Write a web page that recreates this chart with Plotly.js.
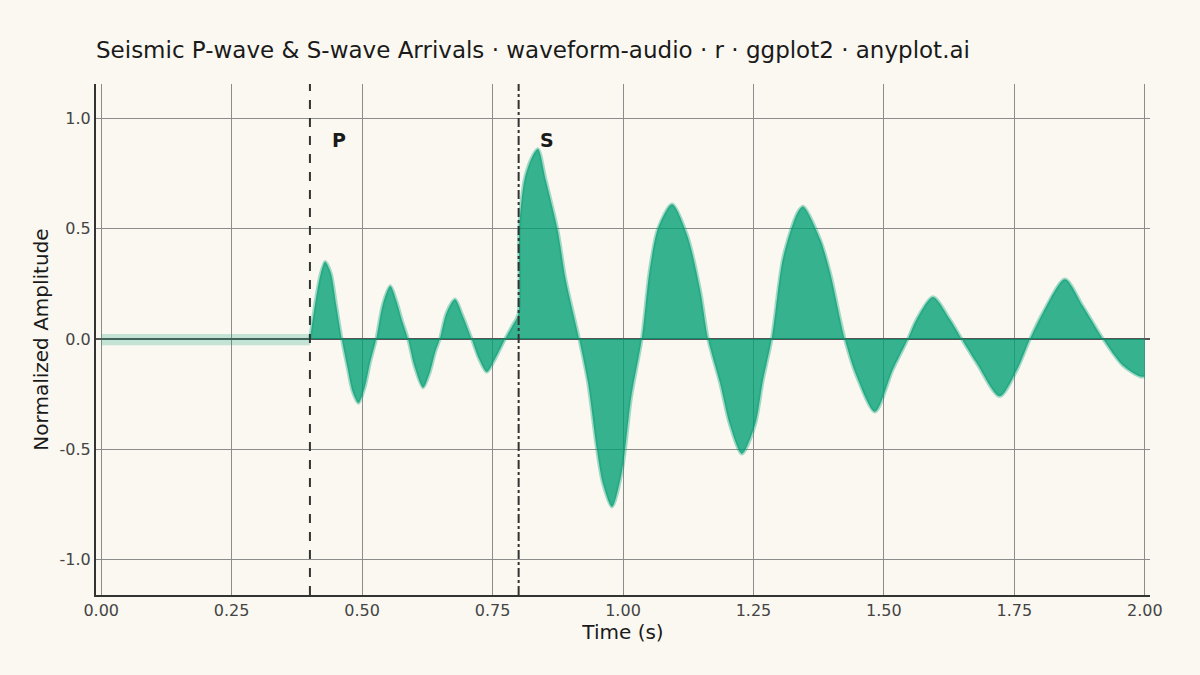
<!DOCTYPE html>
<html>
<head>
<meta charset="utf-8">
<script src="https://cdn.plot.ly/plotly-3.0.1.min.js"></script>
<style>
  html, body { margin: 0; padding: 0; background: #FAF8F1; }
  #chart { width: 1200px; height: 675px; }
</style>
</head>
<body>
<div id="chart"></div>
<script>
// waveform (time in s, normalized amplitude)
const waveTime = [
  0.400, 0.412, 0.420, 0.429, 0.440, 0.450, 0.461, 0.472, 0.482, 0.493,
  0.505, 0.515, 0.527, 0.540, 0.554, 0.566, 0.577, 0.588, 0.600, 0.617,
  0.630, 0.640, 0.649, 0.662, 0.678, 0.692, 0.710, 0.724, 0.739, 0.755,
  0.774, 0.788, 0.799, 0.801, 0.812, 0.827, 0.837, 0.852, 0.875, 0.890,
  0.916, 0.933, 0.950, 0.961, 0.979, 0.998, 1.016, 1.036, 1.051, 1.067,
  1.094, 1.123, 1.148, 1.163, 1.186, 1.205, 1.228, 1.253, 1.268, 1.285,
  1.307, 1.334, 1.345, 1.378, 1.397, 1.425, 1.448, 1.483, 1.517, 1.546,
  1.563, 1.594, 1.626, 1.649, 1.678, 1.722, 1.755, 1.780, 1.805, 1.847,
  1.881, 1.920, 1.958, 1.991, 2.000
];
const waveAmp = [
  0.00, 0.19, 0.29, 0.35, 0.30, 0.16, 0.00, -0.13, -0.24, -0.29,
  -0.22, -0.11, 0.00, 0.16, 0.24, 0.17, 0.08, 0.00, -0.12, -0.22,
  -0.15, -0.06, 0.00, 0.12, 0.18, 0.11, 0.00, -0.09, -0.15, -0.09,
  0.00, 0.06, 0.11, 0.50, 0.73, 0.83, 0.86, 0.72, 0.49, 0.27,
  0.00, -0.20, -0.50, -0.65, -0.76, -0.60, -0.26, 0.00, 0.31, 0.50,
  0.61, 0.47, 0.22, 0.00, -0.20, -0.39, -0.52, -0.39, -0.19, 0.00,
  0.37, 0.57, 0.60, 0.45, 0.30, 0.00, -0.17, -0.33, -0.14, 0.00,
  0.09, 0.19, 0.09, 0.00, -0.11, -0.26, -0.14, 0.00, 0.12, 0.27,
  0.15, 0.00, -0.12, -0.17, -0.17
];

// background noise before the P arrival
const noiseTime = [0.00, 0.40];
const noiseUpper = [0.022, 0.022];
const noiseLower = [-0.028, -0.028];

const arrivalTimes = [0.40, 0.80];
const arrivalLabels = ['P', 'S'];
const arrivalDash = ['dash', 'dashdot'];

const xTicks = [0, 0.25, 0.5, 0.75, 1.0, 1.25, 1.5, 1.75, 2.0];
const xTickLabels = ['0.00', '0.25', '0.50', '0.75', '1.00', '1.25', '1.50', '1.75', '2.00'];
const yTicks = [-1, -0.5, 0, 0.5, 1];
const yTickLabels = ['-1.0', '-0.5', '0.0', '0.5', '1.0'];

const green = 'rgba(0,158,115,0.78)';
const font = 'DejaVu Sans, sans-serif';

const traces = [
  {
    x: noiseTime, y: noiseUpper, type: 'scatter', mode: 'lines',
    fill: 'tozeroy', fillcolor: 'rgba(0,158,115,0.22)',
    line: { width: 0 }, hoverinfo: 'skip', showlegend: false
  },
  {
    x: noiseTime, y: noiseLower, type: 'scatter', mode: 'lines',
    fill: 'tozeroy', fillcolor: 'rgba(0,158,115,0.22)',
    line: { width: 0 }, hoverinfo: 'skip', showlegend: false
  },
  {
    x: waveTime, y: waveAmp, type: 'scatter', mode: 'lines',
    fill: 'tozeroy', fillcolor: green,
    line: { color: 'rgba(0,158,115,0.35)', width: 3.5, shape: 'spline', smoothing: 0.8 },
    showlegend: false
  }
];

const shapes = arrivalTimes.map((t, i) => ({
  type: 'line', xref: 'x', yref: 'paper', x0: t, x1: t, y0: 0, y1: 1,
  line: { color: '#333333', width: 2, dash: arrivalDash[i] }
}));

const annotations = arrivalTimes.map((t, i) => ({
  x: t + 0.055, y: 0.9, xref: 'x', yref: 'y',
  text: '<b>' + arrivalLabels[i] + '</b>', showarrow: false,
  font: { family: font, size: 19, color: '#1a1a1a' }
}));

const layout = {
  width: 1200, height: 675,
  paper_bgcolor: '#FAF8F1', plot_bgcolor: '#FAF8F1',
  margin: { l: 96, r: 50, t: 84, b: 80 },
  title: {
    text: 'Seismic P-wave & S-wave Arrivals · waveform-audio · r · ggplot2 · anyplot.ai',
    x: 0.08, xref: 'container', xanchor: 'left',
    y: 0.926, yref: 'container', yanchor: 'middle',
    font: { family: font, size: 23, color: '#1a1a1a' }
  },
  xaxis: {
    range: [-0.01, 2.01],
    tickvals: xTicks, ticktext: xTickLabels,
    showgrid: true, gridcolor: '#8c8c8c', gridwidth: 1,
    zeroline: false, showline: true, linecolor: '#333333', linewidth: 2,
    ticks: '', tickfont: { family: font, size: 16, color: '#444444' },
    title: { text: 'Time (s)', font: { family: font, size: 20, color: '#1a1a1a' }, standoff: 5 }
  },
  yaxis: {
    range: [-1.16, 1.155],
    tickvals: yTicks, ticktext: yTickLabels,
    showgrid: true, gridcolor: '#8c8c8c', gridwidth: 1,
    zeroline: true, zerolinecolor: '#555555', zerolinewidth: 2,
    showline: true, linecolor: '#333333', linewidth: 2,
    ticks: '', tickfont: { family: font, size: 16, color: '#444444' },
    title: { text: 'Normalized Amplitude', font: { family: font, size: 20, color: '#1a1a1a' }, standoff: 6 }
  },
  shapes: shapes,
  annotations: annotations
};

Plotly.newPlot('chart', traces, layout, { displayModeBar: false, staticPlot: true });
</script>
</body>
</html>
